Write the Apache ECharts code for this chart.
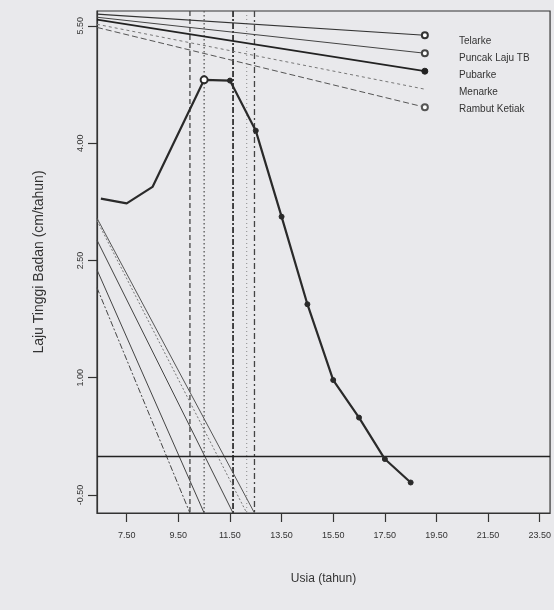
<!DOCTYPE html>
<html>
<head>
<meta charset="utf-8">
<script src="https://cdn.jsdelivr.net/npm/echarts@6/dist/echarts.min.js"></script>
<style>
html,body{margin:0;padding:0;background:#e9e9ec;}
#c{width:554px;height:610px;}
</style>
</head>
<body>
<div id="c"></div>
<script>
// ---- data ----
const ages = [6.5, 7.5, 8.5, 10.5, 11.5, 12.5, 13.5, 14.5, 15.5, 16.5, 17.5, 18.5];
const growthRate = [3.29, 3.23, 3.44, 4.81, 4.80, 4.16, 3.06, 1.94, 0.97, 0.49, -0.04, -0.34];

const milestoneNames = ['Telarke', 'Puncak Laju TB', 'Pubarke', 'Menarke', 'Rambut Ketiak'];
const milestoneAges = [9.95, 10.5, 11.62, 12.45, 12.15];
// key lines at the top (from left frame edge to the key marker)
const keyLineStartRate = [5.65, 5.61, 5.58, 5.52, 5.48];
const keyLineEndRate = [5.38, 5.15, 4.92, 4.69, 4.46];
const keyLineEndAge = 19.05;
// diagonal guides: rate at the left frame edge, ending at (milestone age, bottom)
const diagonalStartRate = [2.15, 2.38, 2.76, 3.04, 3.01];

const xTicks = [7.5, 9.5, 11.5, 13.5, 15.5, 17.5, 19.5, 21.5, 23.5];
const yTicks = [-0.5, 1.0, 2.5, 4.0, 5.5];
const xMin = 6.35, xMax = 23.9, yMin = -0.73, yMax = 5.69;
const zeroLevel = 0;

// ---- styles ----
const FONT = 'Liberation Sans';
const keyStyles = [
  {type: 'solid', width: 1.1, color: '#333', symbol: 'emptyCircle'},
  {type: 'solid', width: 1.0, color: '#444', symbol: 'emptyCircle'},
  {type: 'solid', width: 1.7, color: '#222', symbol: 'circle'},
  {type: [3, 3], width: 1.0, color: '#777', symbol: 'none'},
  {type: [6, 3], width: 1.0, color: '#555', symbol: 'emptyCircle'}
];
const verticalStyles = [
  {type: [5, 3], width: 1.3, color: '#444'},
  {type: [1.5, 2.5], width: 1.3, color: '#555'},
  {type: [6, 2, 2, 2], width: 1.8, color: '#333'},
  {type: [6, 3, 2, 3], width: 1.3, color: '#444'},
  {type: [1, 3], width: 1.0, color: '#888'}
];
const diagonalStyles = [
  {type: [6, 2, 2, 2], width: 1.0, color: '#444'},
  {type: 'solid', width: 1.0, color: '#444'},
  {type: 'solid', width: 1.0, color: '#444'},
  {type: 'solid', width: 1.0, color: '#555'},
  {type: [2, 2], width: 1.0, color: '#777'}
];

const series = [];
milestoneNames.forEach((name, i) => {
  const ks = keyStyles[i];
  series.push({
    name: name, type: 'line', silent: true, z: 3,
    data: [
      {value: [xMin, keyLineStartRate[i]], symbol: 'none'},
      {value: [keyLineEndAge, keyLineEndRate[i]], symbol: ks.symbol, symbolSize: 6}
    ],
    lineStyle: {type: ks.type, width: ks.width, color: ks.color},
    itemStyle: {color: ks.color, borderColor: ks.color, borderWidth: 1},
    showSymbol: true
  });
  const vs = verticalStyles[i];
  series.push({
    name: name, type: 'line', silent: true, symbol: 'none', z: 2,
    data: [[milestoneAges[i], yMax], [milestoneAges[i], yMin]],
    lineStyle: {type: vs.type, width: vs.width, color: vs.color}
  });
  const ds = diagonalStyles[i];
  series.push({
    name: name, type: 'line', silent: true, symbol: 'none', z: 2,
    data: [[xMin, diagonalStartRate[i]], [milestoneAges[i], yMin]],
    lineStyle: {type: ds.type, width: ds.width, color: ds.color}
  });
});

const peakIndex = growthRate.indexOf(Math.max(...growthRate));
series.push({
  name: 'Laju Tinggi Badan', type: 'line', z: 5, silent: true,
  data: ages.map((a, i) => {
    if (i < 3) return {value: [a, growthRate[i]], symbol: 'none'};
    if (i === peakIndex) return {value: [a, growthRate[i]], symbol: 'emptyCircle', symbolSize: 7};
    return {value: [a, growthRate[i]], symbol: 'circle', symbolSize: 5};
  }),
  lineStyle: {color: '#2a2a2a', width: 2.2},
  itemStyle: {color: '#2a2a2a', borderColor: '#2a2a2a', borderWidth: 1},
  markLine: {
    silent: true, symbol: 'none', label: {show: false},
    lineStyle: {color: '#222', width: 1.3, type: 'solid'},
    data: [{yAxis: zeroLevel}]
  }
});

const chart = echarts.init(document.getElementById('c'), null, {renderer: 'canvas'});
chart.setOption({
  animation: false,
  backgroundColor: '#e9e9ec',
  grid: {left: 97, right: 3, top: 11, bottom: 97, show: true, borderColor: '#333', borderWidth: 1.2, backgroundColor: 'transparent'},
  legend: {
    data: milestoneNames, orient: 'vertical', left: 449, top: 30,
    icon: 'none', itemWidth: 0, itemHeight: 12, itemGap: 6,
    textStyle: {fontSize: 10, color: '#333', fontFamily: FONT},
    selectedMode: false
  },
  xAxis: {
    type: 'value', min: xMin, max: xMax,
    name: 'Usia (tahun)', nameLocation: 'middle', nameGap: 60,
    nameTextStyle: {fontSize: 12, color: '#333', fontFamily: FONT},
    axisLine: {show: true, onZero: false, lineStyle: {color: '#333', width: 1.2}},
    axisTick: {show: true, customValues: xTicks, length: 9, lineStyle: {color: '#333', width: 1.2}},
    axisLabel: {customValues: xTicks, formatter: v => v.toFixed(2), margin: 18, fontSize: 9, color: '#333', fontFamily: FONT},
    splitLine: {show: false}
  },
  yAxis: {
    type: 'value', min: yMin, max: yMax,
    name: 'Laju Tinggi Badan (cm/tahun)', nameLocation: 'middle', nameGap: 51,
    nameTextStyle: {fontSize: 14, color: '#333', fontFamily: FONT},
    axisLine: {show: true, onZero: false, lineStyle: {color: '#333', width: 1.2}},
    axisTick: {show: true, customValues: yTicks, length: 9, lineStyle: {color: '#333', width: 1.2}},
    axisLabel: {customValues: yTicks, formatter: v => v.toFixed(2), rotate: 90, margin: 12, fontSize: 9, color: '#333', fontFamily: FONT},
    splitLine: {show: false}
  },
  series: series
});
</script>
</body>
</html>
